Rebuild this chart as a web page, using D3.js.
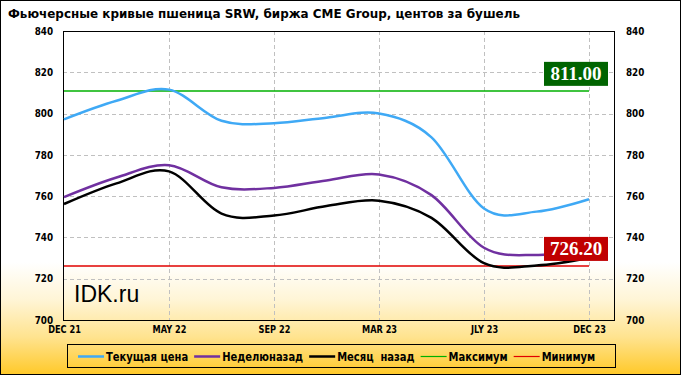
<!DOCTYPE html>
<html>
<head>
<meta charset="utf-8">
<script src="https://cdn.jsdelivr.net/npm/d3@7"></script>
<style>
  body { margin: 0; }
  svg { display: block; }
</style>
</head>
<body>
<svg width="681" height="375"></svg>
<script>
// futures contracts (x axis) and prices, cents per bushel
const contracts = ["DEC 21", "MAR 22", "MAY 22", "JLY 22", "SEP 22", "DEC 22", "MAR 23", "MAY 23", "JLY 23", "SEP 23", "DEC 23"];
const currentPrice = [797.2, 806.2, 811.6, 796.5, 795.3, 798.0, 800.0, 788.5, 754.0, 752.5, 758.5];
const weekAgo      = [759.5, 769.0, 775.0, 764.3, 764.0, 767.6, 770.5, 760.5, 735.0, 731.5, 734.0];
const monthAgo     = [756.2, 766.2, 772.0, 751.5, 750.6, 755.2, 757.8, 749.5, 727.5, 726.4, 730.0];
const maxValue = 811.00;
const minValue = 726.20;
const yTicks = [700, 720, 740, 760, 780, 800, 820, 840];
const xTickIdx = [0, 2, 4, 6, 8, 10];
const legendNames = ["Текущая цена", "Неделюназад", "Месяц  назад", "Максимум", "Минимум"];
const legendColors = ["#3FA9F5", "#7030A0", "#000000", "#00B000", "#E00000"];

const svg = d3.select("svg"),
    width = +svg.attr("width"),
    height = +svg.attr("height");

const plot = { left: 63, right: 614, top: 31, bottom: 320 };
const x = d3.scaleLinear().domain([0, contracts.length - 1]).range([64, 589]);
const y = d3.scaleLinear().domain([700, 840]).range([plot.bottom, plot.top]);

const axisFont = "'DejaVu Sans', sans-serif";

// squeeze text horizontally (the original uses a narrow bold face)
function condense(sel, k) {
    sel.each(function () {
        const w = this.getComputedTextLength();
        d3.select(this).attr("textLength", w * k).attr("lengthAdjust", "spacingAndGlyphs");
    });
}

// background gradient
const defs = svg.append("defs");
const grad = defs.append("linearGradient").attr("id", "bg")
    .attr("x1", 0).attr("y1", 0).attr("x2", 0).attr("y2", 1);
grad.append("stop").attr("offset", "0.70").attr("stop-color", "#ffffff");
grad.append("stop").attr("offset", "0.80").attr("stop-color", "#fff5d6");
grad.append("stop").attr("offset", "0.90").attr("stop-color", "#ffe38f");
grad.append("stop").attr("offset", "1").attr("stop-color", "#ffc929");

svg.append("rect")
    .attr("x", 0.5).attr("y", 0.5)
    .attr("width", width - 1).attr("height", height - 1)
    .attr("fill", "url(#bg)")
    .attr("stroke", "#000");

// title
svg.append("text")
    .attr("x", 8).attr("y", 18)
    .attr("font-family", axisFont)
    .attr("font-weight", "bold")
    .attr("font-size", 13)
    .attr("textLength", 512)
    .attr("lengthAdjust", "spacingAndGlyphs")
    .text("Фьючерсные  кривые  пшеница  SRW,  биржа  CME  Group,  центов за бушель");

// grid
const grid = svg.append("g")
    .attr("stroke", "#c0c0c0")
    .attr("stroke-dasharray", "4,3");

grid.selectAll(".hgrid")
    .data(yTicks.filter(function (d) { return d > 700 && d < 840; }))
    .enter().append("line")
    .attr("x1", plot.left).attr("x2", plot.right)
    .attr("y1", function (d) { return Math.round(y(d)) + 0.5; })
    .attr("y2", function (d) { return Math.round(y(d)) + 0.5; });

grid.selectAll(".vgrid")
    .data(xTickIdx.filter(function (d) { return d > 0; }))
    .enter().append("line")
    .attr("y1", plot.top).attr("y2", plot.bottom)
    .attr("x1", function (d) { return Math.round(x(d)) + 0.5; })
    .attr("x2", function (d) { return Math.round(x(d)) + 0.5; });

// plot frame
svg.append("rect")
    .attr("x", plot.left + 0.5).attr("y", plot.top + 0.5)
    .attr("width", plot.right - plot.left).attr("height", plot.bottom - plot.top)
    .attr("fill", "none")
    .attr("stroke", "#000");

// axes
function styleAxis(g, k) {
    g.select(".domain").remove();
    g.selectAll("text")
        .attr("font-family", axisFont)
        .attr("font-weight", "bold")
        .attr("fill", "#000")
        .call(condense, k);
}

svg.append("g")
    .attr("transform", "translate(" + plot.left + ",0)")
    .attr("font-size", 12)
    .call(d3.axisLeft(y).tickValues(yTicks).tickSize(0).tickPadding(10))
    .call(styleAxis, 0.88);

svg.append("g")
    .attr("transform", "translate(" + plot.right + ",0)")
    .attr("font-size", 12)
    .call(d3.axisRight(y).tickValues(yTicks).tickSize(0).tickPadding(12))
    .call(styleAxis, 0.88);

svg.append("g")
    .attr("transform", "translate(0," + plot.bottom + ")")
    .attr("font-size", 11)
    .call(d3.axisBottom(x).tickValues(xTickIdx).tickSize(0).tickPadding(6)
        .tickFormat(function (i) { return contracts[i]; }))
    .call(styleAxis, 0.82);

// watermark
svg.append("text")
    .attr("x", 74).attr("y", 302)
    .attr("font-family", "'Liberation Sans', Arial, sans-serif")
    .attr("font-size", 23)
    .text("IDK.ru");

// max / min lines
[[maxValue, legendColors[3]], [minValue, legendColors[4]]].forEach(function (m) {
    svg.append("line")
        .attr("x1", x(0)).attr("x2", x(contracts.length - 1))
        .attr("y1", Math.round(y(m[0]))).attr("y2", Math.round(y(m[0])))
        .attr("stroke", m[1])
        .attr("stroke-width", 1.4);
});

// series
const line = d3.line()
    .x(function (d, i) { return x(i); })
    .y(function (d) { return y(d); })
    .curve(d3.curveCatmullRom.alpha(0));

[[monthAgo, legendColors[2]], [weekAgo, legendColors[1]], [currentPrice, legendColors[0]]].forEach(function (s) {
    svg.append("path")
        .datum(s[0])
        .attr("d", line)
        .attr("fill", "none")
        .attr("stroke", s[1])
        .attr("stroke-width", 2.5);
});

// value labels for max / min
[[maxValue, "#006400"], [minValue, "#c00000"]].forEach(function (m) {
    const bx = x(contracts.length - 1) + 19, by = y(m[0]) - 5;
    svg.append("rect")
        .attr("x", bx - 64).attr("y", by - 24)
        .attr("width", 64).attr("height", 24)
        .attr("fill", m[1]);
    svg.append("text")
        .attr("x", bx - 32).attr("y", by - 5.5)
        .attr("text-anchor", "middle")
        .attr("font-family", "'Liberation Serif', 'Times New Roman', serif")
        .attr("font-weight", "bold")
        .attr("font-size", 19)
        .attr("fill", "#fff")
        .text(m[0].toFixed(2));
});

// legend
svg.append("rect")
    .attr("x", 67.5).attr("y", 344.5)
    .attr("width", 548).attr("height", 23)
    .attr("fill", "none")
    .attr("stroke", "#000");

let lx = 78;
legendNames.forEach(function (name, i) {
    svg.append("line")
        .attr("x1", lx).attr("x2", lx + 26)
        .attr("y1", 356.5).attr("y2", 356.5)
        .attr("stroke", legendColors[i])
        .attr("stroke-width", i < 3 ? 2.5 : 1.2);
    const t = svg.append("text")
        .attr("x", lx + 28).attr("y", 360.5)
        .attr("font-family", axisFont)
        .attr("font-weight", "bold")
        .attr("font-size", 12)
        .style("white-space", "pre")
        .text(name)
        .call(condense, 0.83);
    lx += 28 + +t.attr("textLength") + 6;
});
</script>
</body>
</html>
